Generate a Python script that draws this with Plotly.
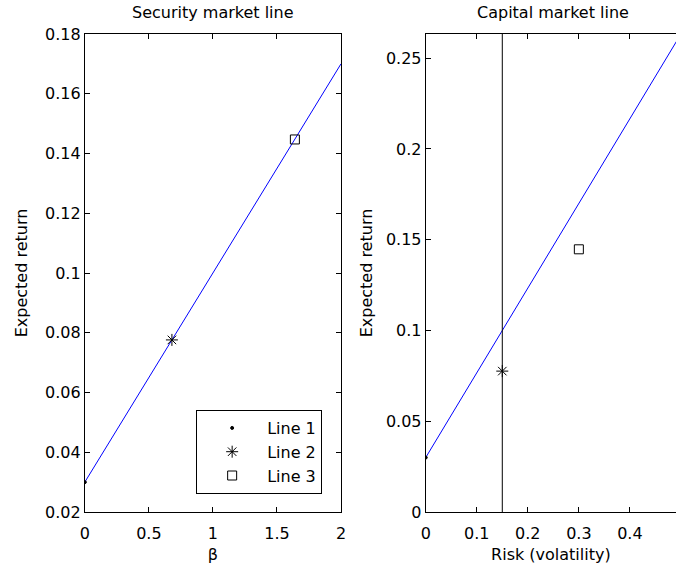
import plotly.graph_objects as go

# --- data -------------------------------------------------------------
risk_free = 0.03
market_return = 0.10
market_vol = 0.15

# security market line (beta vs expected return)
sml_beta = [0.0, 2.0]
sml_return = [0.03, 0.17]

# capital market line (volatility vs expected return)
cml_vol = [0.0, 0.5]
cml_return = [0.03, 0.2633]

# market volatility marker line
mkt_vol_x = [0.15, 0.15]
mkt_vol_y = [0.0, 0.2633]

# assets: risk-free, asset A, asset B
asset_names = ["Line 1", "Line 2", "Line 3"]
asset_beta = [0.0, 0.68, 1.64]
asset_vol = [0.0, 0.15, 0.30]
asset_return = [0.03, 0.0776, 0.1447]
asset_symbols = ["circle", "asterisk-open", "square-open"]
asset_sizes = [3, 10, 9]

sml_xticks = [0, 0.5, 1, 1.5, 2]
sml_yticks = [0.02, 0.04, 0.06, 0.08, 0.1, 0.12, 0.14, 0.16, 0.18]
cml_xticks = [0, 0.1, 0.2, 0.3, 0.4, 0.5]
cml_yticks = [0, 0.05, 0.1, 0.15, 0.2, 0.25]

W, H = 681, 565
FONT = dict(family="DejaVu Sans", size=16, color="black")

fig = go.Figure()

# left panel
fig.add_trace(go.Scatter(x=sml_beta, y=sml_return, mode="lines",
                         line=dict(color="#0000ff", width=1),
                         showlegend=False, xaxis="x", yaxis="y"))
for i, name in enumerate(asset_names):
    fig.add_trace(go.Scatter(
        x=[asset_beta[i]], y=[asset_return[i]], mode="markers", name=name,
        marker=dict(symbol=asset_symbols[i], size=asset_sizes[i], color="black",
                    line=dict(color="black", width=1)),
        xaxis="x", yaxis="y"))

# right panel
fig.add_trace(go.Scatter(x=cml_vol, y=cml_return, mode="lines",
                         line=dict(color="#0000ff", width=1),
                         showlegend=False, xaxis="x2", yaxis="y2"))
fig.add_trace(go.Scatter(x=mkt_vol_x, y=mkt_vol_y, mode="lines",
                         line=dict(color="black", width=1),
                         showlegend=False, xaxis="x2", yaxis="y2"))
for i, name in enumerate(asset_names):
    fig.add_trace(go.Scatter(
        x=[asset_vol[i]], y=[asset_return[i]], mode="markers", name=name,
        marker=dict(symbol=asset_symbols[i], size=asset_sizes[i], color="black",
                    line=dict(color="black", width=1)),
        showlegend=False, xaxis="x2", yaxis="y2"))

axis_common = dict(showgrid=False, zeroline=False, showline=True,
                   linecolor="black", linewidth=1, ticks="inside",
                   ticklen=5, tickcolor="black", tickfont=FONT,
                   layer="above traces")

left_px, right_px = 81, 341
r_left_px = 427
full_right_vol = 0.5
r_width_px = 259

fig.update_layout(
    width=W, height=H,
    margin=dict(l=0, r=0, t=34, b=53),
    paper_bgcolor="white", plot_bgcolor="white",
    font=FONT,
    xaxis=dict(axis_common, domain=[left_px / W, right_px / W], range=[0, 2],
               tickvals=sml_xticks, ticktext=["0", "0.5", "1", "1.5", "2"],
               mirror="ticks", anchor="y", ticklabelstandoff=7,
               title=dict(text="β", font=FONT, standoff=6)),
    yaxis=dict(axis_common, domain=[0, 1], range=[0.02, 0.18],
               tickvals=sml_yticks,
               ticktext=["0.02", "0.04", "0.06", "0.08", "0.1", "0.12", "0.14", "0.16", "0.18"],
               mirror="ticks", anchor="x",
               title=dict(text="Expected return", font=FONT, standoff=13)),
    xaxis2=dict(axis_common, domain=[r_left_px / W, 1],
                range=[0, full_right_vol * (W - r_left_px) / r_width_px],
                tickvals=cml_xticks, ticktext=["0", "0.1", "0.2", "0.3", "0.4", "0.5"],
                mirror="ticks", anchor="y2", ticklabelstandoff=7,
                title=dict(text="Risk (volatility)", font=FONT, standoff=6)),
    yaxis2=dict(axis_common, domain=[0, 1], range=[0, 0.2633],
                tickvals=cml_yticks,
                ticktext=["0", "0.05", "0.1", "0.15", "0.2", "0.25"],
                mirror=False, anchor="x2",
                title=dict(text="Expected return", font=FONT, standoff=9)),
    legend=dict(x=194 / W, y=1 - (410 - 34) / (H - 34 - 53),
                xanchor="left", yanchor="top",
                bgcolor="white", bordercolor="black", borderwidth=1,
                font=FONT, itemwidth=60, tracegroupgap=0),
    annotations=[
        dict(text="Security market line", x=(left_px + right_px) / 2 / W, y=1,
             xref="paper", yref="paper", xanchor="center", yanchor="bottom",
             yshift=10, showarrow=False, font=FONT),
        dict(text="Capital market line", x=(r_left_px + r_left_px + r_width_px) / 2 / W, y=1,
             xref="paper", yref="paper", xanchor="center", yanchor="bottom",
             yshift=10, showarrow=False, font=FONT),
    ],
)

fig.write_html("out.html")
